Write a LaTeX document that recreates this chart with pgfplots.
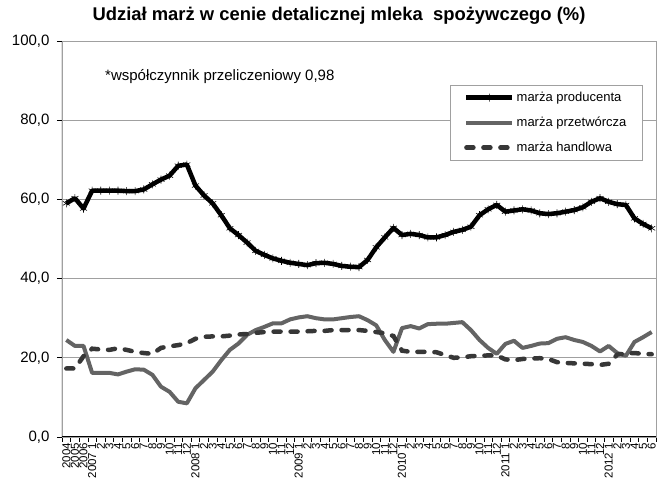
\documentclass[border=0pt]{standalone}
\usepackage{pgfplots}
\pgfplotsset{compat=1.18}
\usepackage{pgfplotstable}
\usepackage{fontspec}
\setmainfont{Liberation Sans}
\definecolor{gA}{RGB}{100,100,100}
\definecolor{gB}{RGB}{55,55,55}
\definecolor{gridc}{RGB}{160,160,160}

\pgfplotstableread{
x prod przet hand
0 59.0 24.5 17.3
1 60.3 23.0 17.3
2 57.7 23.0 20.4
3 62.2 16.2 22.3
4 62.2 16.2 22.1
5 62.2 16.2 22.0
6 62.2 15.8 22.4
7 62.1 16.5 22.0
8 62.1 17.1 21.5
9 62.5 17.0 21.2
10 63.8 15.7 21.0
11 65.0 12.7 22.5
12 66.0 11.4 22.9
13 68.5 8.9 23.2
14 68.8 8.5 23.7
15 63.5 12.3 24.8
16 61.0 14.4 25.3
17 59.0 16.5 25.4
18 56.0 19.4 25.4
19 52.7 22.0 25.6
20 51.0 23.6 25.9
21 49.1 25.8 26.0
22 47.0 27.0 26.3
23 46.0 27.8 26.5
24 45.1 28.7 26.6
25 44.5 28.7 26.6
26 44.0 29.7 26.6
27 43.7 30.2 26.6
28 43.4 30.5 26.7
29 43.9 30.0 26.8
30 44.0 29.7 26.8
31 43.7 29.7 27.0
32 43.2 30.0 27.0
33 43.0 30.3 27.0
34 42.9 30.5 27.0
35 44.7 29.5 26.8
36 47.9 28.2 26.5
37 50.4 24.5 26.2
38 52.8 21.5 25.5
39 51.0 27.5 21.8
40 51.3 28.0 21.5
41 51.0 27.4 21.5
42 50.4 28.5 21.5
43 50.4 28.6 21.4
44 51.0 28.6 20.7
45 51.8 28.8 20.0
46 52.3 29.0 20.1
47 53.1 27.0 20.4
48 56.0 24.5 20.5
49 57.5 22.5 20.6
50 58.6 21.0 20.6
51 56.9 23.5 19.6
52 57.2 24.3 19.4
53 57.5 22.5 19.7
54 57.2 23.0 19.8
55 56.5 23.6 19.9
56 56.3 23.7 19.7
57 56.5 24.8 18.9
58 56.9 25.2 18.7
59 57.3 24.5 18.6
60 58.0 24.0 18.5
61 59.4 23.0 18.4
62 60.3 21.6 18.2
63 59.4 23.0 18.5
64 58.8 21.2 20.8
65 58.6 20.5 21.1
66 55.2 24.0 21.2
67 53.8 25.2 21.0
68 52.7 26.5 20.9
}\data

\begin{document}
\begin{tikzpicture}[x=1pt,y=1pt]
\path[use as bounding box] (0,0) rectangle (659,487);
\node[font=\bfseries\fontsize{18.4}{21}\selectfont] at (339,471) {Udział marż w cenie detalicznej mleka\ \ spożywczego (\%)};
\begin{axis}[
  at={(62pt,50pt)}, anchor=south west, scale only axis,
  width=594pt, height=396pt,
  xmin=-0.5, xmax=68.5, ymin=0, ymax=100,
  xtick={0,...,68},
  xticklabels={2004,2005,2006,2007 1,2,3,4,5,6,7,8,9,10,11,12,2008 1,2,3,4,5,6,7,8,9,10,11,12,2009 1,2,3,4,5,6,7,8,9,10,11,12,2010 1,2,3,4,5,6,7,8,9,10,11,12,2011 1,2,3,4,5,6,7,8,9,10,11,12,2012 1,2,3,4,5,6},
  x tick label style={rotate=90, anchor=east, font=\fontsize{11.5}{12}\selectfont, inner sep=1pt},
  major x tick style={draw=none},
  minor xtick={-0.5,0.5,...,68.5},
  minor tick length=5pt, major tick length=5pt,
  tick align=outside, xtick pos=lower, ytick pos=left,
  ytick={0,20,...,100},
  yticklabel style={font=\fontsize{15}{17}\selectfont, xshift=-4pt, /pgf/number format/.cd, fixed, fixed zerofill, precision=1, use comma, assume math mode=true},
  ymajorgrids, major grid style={gridc, line width=0.8pt},
  axis line style={gridc, line width=0.8pt},
  tick style={black, line width=0.6pt},
  legend style={at={(rel axis cs:0.653,0.889)}, anchor=north west, draw=gridc, line width=0.6pt,
    font=\fontsize{13}{15}\selectfont, row sep=10pt, inner xsep=14pt, inner ysep=5pt},
  legend cell align=left,
  legend image code/.code={\draw[mark repeat=2,mark phase=2,#1] plot coordinates {(0pt,0pt) (23pt,0pt) (46pt,0pt)};},
]
\addplot[black, line width=4.5pt, line join=round, mark=asterisk, mark size=4pt, mark options={solid, line width=0.6pt, black}] table[x=x,y=prod] {\data};
\addlegendentry{marża producenta}
\addplot[gA, line width=4pt, line join=round, no marks] table[x=x,y=przet] {\data};
\addlegendentry{marża przetwórcza}
\addplot[gB, line width=4.5pt, line cap=round, dash pattern=on 7pt off 10pt, no marks] table[x=x,y=hand] {\data};
\addlegendentry{marża handlowa}
\draw[black, line width=1pt] (rel axis cs:0,1) -- (rel axis cs:0,0) -- (rel axis cs:1,0);
\end{axis}
\node[anchor=west, font=\fontsize{15}{18}\selectfont, inner sep=0pt] at (105,410) {*współczynnik przeliczeniowy 0,98};
\end{tikzpicture}
\end{document}
